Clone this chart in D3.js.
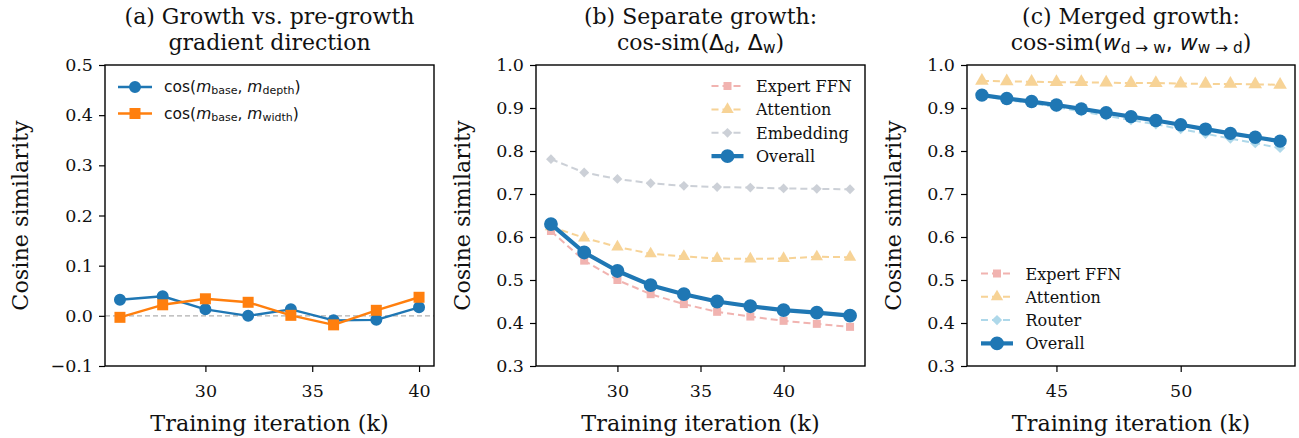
<!DOCTYPE html>
<html>
<head>
<meta charset="utf-8">
<script src="https://cdn.jsdelivr.net/npm/d3@7"></script>
<style>
  html, body { margin: 0; padding: 0; background: #fff; }
  svg { display: block; }
  .serif { font-family: "DejaVu Serif", serif; }
  .sans { font-family: "DejaVu Sans", sans-serif; }
</style>
</head>
<body>
<div id="chart"></div>
<script>
// ---- data -------------------------------------------------------------
// (a) cosine between pre-growth gradient and post-growth gradients
const iterA = [26, 28, 30, 32, 34, 36, 38, 40];
const depthCos = [0.032, 0.039, 0.013, 0.000, 0.013, -0.009, -0.008, 0.017];
const widthCos = [-0.003, 0.022, 0.034, 0.027, 0.001, -0.018, 0.011, 0.037];

// (b) separate growth, per-module cosine similarity
const iterB = [26, 28, 30, 32, 34, 36, 38, 40, 42, 44];
const sepExpertFFN = [0.614, 0.545, 0.500, 0.467, 0.444, 0.426, 0.415, 0.405, 0.398, 0.391];
const sepAttention = [0.624, 0.598, 0.577, 0.561, 0.555, 0.550, 0.549, 0.550, 0.554, 0.553];
const sepEmbedding = [0.781, 0.750, 0.735, 0.725, 0.719, 0.716, 0.715, 0.713, 0.712, 0.711];
const sepOverall   = [0.630, 0.564, 0.521, 0.488, 0.467, 0.450, 0.439, 0.430, 0.424, 0.417];

// (c) merged growth, per-module cosine similarity
const iterC = [42, 43, 44, 45, 46, 47, 48, 49, 50, 51, 52, 53, 54];
const mrgExpertFFN = [0.929, 0.921, 0.914, 0.906, 0.897, 0.888, 0.879, 0.870, 0.860, 0.850, 0.840, 0.831, 0.821];
const mrgAttention = [0.963, 0.962, 0.961, 0.960, 0.960, 0.959, 0.958, 0.958, 0.957, 0.956, 0.956, 0.955, 0.954];
const mrgRouter    = [0.928, 0.919, 0.911, 0.902, 0.892, 0.882, 0.872, 0.862, 0.851, 0.840, 0.829, 0.818, 0.807];
const mrgOverall   = [0.930, 0.922, 0.915, 0.907, 0.898, 0.889, 0.880, 0.871, 0.861, 0.851, 0.841, 0.832, 0.823];

// ticks
const ticksXA = [30, 35, 40];
const ticksYA = [-0.1, 0.0, 0.1, 0.2, 0.3, 0.4, 0.5];
const ticksXB = [30, 35, 40];
const ticksYB = [0.3, 0.4, 0.5, 0.6, 0.7, 0.8, 0.9, 1.0];
const ticksXC = [45, 50];
const ticksYC = [0.3, 0.4, 0.5, 0.6, 0.7, 0.8, 0.9, 1.0];

// ---- drawing ----------------------------------------------------------
const W = 1299, H = 438;
const svg = d3.select("#chart").append("svg").attr("width", W).attr("height", H);

const fmt = d3.format(".1f");
const TICK_FS = 17.5, LABEL_FS = 22.3, TITLE_FS = 22, LEG_FS = 16;

function makePanel(cfg) {
  const x = d3.scaleLinear().domain(cfg.xDomain).range([cfg.left, cfg.right]);
  const y = d3.scaleLinear().domain(cfg.yDomain).range([cfg.bottom, cfg.top]);
  const g = svg.append("g");

  // axes
  const xAxis = d3.axisBottom(x).tickValues(cfg.xTicks).tickFormat(d3.format("d"))
    .tickSizeOuter(0).tickSizeInner(6).tickPadding(8);
  const yAxis = d3.axisLeft(y).tickValues(cfg.yTicks).tickFormat(fmt)
    .tickSizeOuter(0).tickSizeInner(6).tickPadding(6);
  const gx = g.append("g").attr("transform", `translate(0,${cfg.bottom})`).call(xAxis);
  const gy = g.append("g").attr("transform", `translate(${cfg.left},0)`).call(yAxis);
  [gx, gy].forEach(a => {
    a.select(".domain").remove();
    a.selectAll("line").attr("stroke", "#000").attr("stroke-width", 1.2);
    a.selectAll("text").attr("class", "serif").attr("font-size", TICK_FS).attr("fill", "#111");
  });
  gx.selectAll("text").attr("dy", "0.95em");

  const body = g.append("g");
  // frame
  g.append("rect")
    .attr("x", cfg.left).attr("y", cfg.top)
    .attr("width", cfg.right - cfg.left).attr("height", cfg.bottom - cfg.top)
    .attr("fill", "none").attr("stroke", "#000").attr("stroke-width", 1.4);

  // axis labels
  g.append("text").attr("class", "serif").attr("font-size", LABEL_FS).attr("fill", "#111")
    .attr("text-anchor", "middle")
    .attr("x", (cfg.left + cfg.right) / 2).attr("y", 431)
    .text("Training iteration (k)");
  g.append("text").attr("class", "serif").attr("font-size", LABEL_FS).attr("fill", "#111")
    .attr("text-anchor", "middle")
    .attr("transform", `translate(${cfg.yLabelX},${(cfg.top + cfg.bottom) / 2}) rotate(-90)`)
    .text("Cosine similarity");

  return { x, y, g, body };
}

function symbolPath(kind, size) {
  if (kind === "circle") return d3.symbol(d3.symbolCircle, size)();
  if (kind === "square") return d3.symbol(d3.symbolSquare, size)();
  if (kind === "triangle") return d3.symbol(d3.symbolTriangle, size)();
  if (kind === "diamond") return d3.symbol(d3.symbolSquare, size)();
}

function drawSeries(p, xs, ys, st) {
  const pts = xs.map((d, i) => [d, ys[i]]);
  const line = d3.line().x(d => p.x(d[0])).y(d => p.y(d[1]));
  const grp = p.body.append("g").attr("opacity", st.opacity || 1);
  grp.append("path").attr("d", line(pts))
    .attr("fill", "none").attr("stroke", st.color).attr("stroke-width", st.lw)
    .attr("stroke-dasharray", st.dash || null).attr("stroke-linejoin", "round");
  const path = symbolPath(st.marker, st.size);
  grp.selectAll("path.m").data(pts).join("path").attr("class", "m")
    .attr("d", path)
    .attr("transform", d => `translate(${p.x(d[0])},${p.y(d[1])})` + (st.marker === "diamond" ? " rotate(45)" : ""))
    .attr("fill", st.color);
}

function legendHandle(g, cx, cy, st, half) {
  const grp = g.append("g").attr("opacity", st.opacity || 1);
  grp.append("line").attr("x1", cx - half).attr("x2", cx + half).attr("y1", cy).attr("y2", cy)
    .attr("stroke", st.color).attr("stroke-width", st.lw).attr("stroke-dasharray", st.dash || null);
  grp.append("path").attr("d", symbolPath(st.marker, st.size))
    .attr("transform", `translate(${cx},${cy})` + (st.marker === "diamond" ? " rotate(45)" : ""))
    .attr("fill", st.color);
}

// titles (serif text with sans math parts)
function title(cx, lines) {
  lines.forEach((parts, i) => {
    const t = svg.append("text").attr("x", cx).attr("y", 24 + i * 25.5)
      .attr("text-anchor", "middle").attr("font-size", TITLE_FS).attr("fill", "#111");
    parts.forEach(pt => {
      const s = t.append("tspan").text(pt.t)
        .attr("font-family", pt.math ? "DejaVu Sans, sans-serif" : "DejaVu Serif, serif");
      if (pt.it) s.attr("font-style", "italic");
      if (pt.sub) s.attr("font-size", TITLE_FS * 0.7).attr("baseline-shift", "-22%");
    });
  });
}

// ---- panel (a)
const pa = makePanel({ left: 105, right: 434, top: 65, bottom: 366,
  xDomain: [25.3, 40.7], yDomain: [-0.1, 0.5], xTicks: ticksXA, yTicks: ticksYA, yLabelX: 28 });
pa.body.append("line").attr("x1", 105).attr("x2", 434).attr("y1", pa.y(0)).attr("y2", pa.y(0))
  .attr("stroke", "#b0b0b0").attr("stroke-width", 1.2).attr("stroke-dasharray", "5,3");
const stDepth = { color: "#1f77b4", lw: 2.4, marker: "circle", size: 113 };
const stWidth = { color: "#ff7f0e", lw: 2.4, marker: "square", size: 121 };
drawSeries(pa, iterA, depthCos, stDepth);
drawSeries(pa, iterA, widthCos, stWidth);

function mathLegend(g, x, y, sub) {
  const t = g.append("text").attr("x", x).attr("y", y).attr("font-size", 15.5)
    .attr("font-family", "DejaVu Sans, sans-serif").attr("fill", "#111");
  t.append("tspan").text("cos(");
  t.append("tspan").text("m").attr("font-style", "italic");
  t.append("tspan").text("base").attr("font-size", 11).attr("baseline-shift", "-22%");
  t.append("tspan").text(", ");
  t.append("tspan").text("m").attr("font-style", "italic");
  t.append("tspan").text(sub).attr("font-size", 11).attr("baseline-shift", "-22%");
  t.append("tspan").text(")");
}
legendHandle(pa.g, 135, 87, stDepth, 17);
mathLegend(pa.g, 164, 92, "depth");
legendHandle(pa.g, 135, 113.5, stWidth, 17);
mathLegend(pa.g, 164, 118.5, "width");

title(269.5, [
  [{ t: "(a) Growth vs. pre-growth" }],
  [{ t: "gradient direction" }]
]);

// ---- panel (b)
const pb = makePanel({ left: 536, right: 865, top: 65, bottom: 366,
  xDomain: [25.1, 44.9], yDomain: [0.3, 1.0], xTicks: ticksXB, yTicks: ticksYB, yLabelX: 470 });
const stFFN  = { color: "#e8827d", lw: 2, dash: "7,4", marker: "square",   size: 64,  opacity: 0.6 };
const stAttn = { color: "#f0a830", lw: 2, dash: "7,4", marker: "triangle", size: 66,  opacity: 0.5 };
const stEmb  = { color: "#9aa3b0", lw: 2, dash: "7,4", marker: "diamond",  size: 48,  opacity: 0.5 };
const stRtr  = { color: "#5fb3d6", lw: 2, dash: "7,4", marker: "diamond",  size: 52,  opacity: 0.5 };
const stAll  = { color: "#1f77b4", lw: 4.2, marker: "circle", size: 150 };
drawSeries(pb, iterB, sepExpertFFN, stFFN);
drawSeries(pb, iterB, sepAttention, stAttn);
drawSeries(pb, iterB, sepEmbedding, stEmb);
drawSeries(pb, iterB, sepOverall, stAll);

const legB = [["Expert FFN", stFFN], ["Attention", stAttn], ["Embedding", stEmb], ["Overall", stAll]];
legB.forEach(([name, st], i) => {
  const cy = 86 + i * 23.4;
  legendHandle(pb.g, 727.5, cy, st, 16);
  pb.g.append("text").attr("class", "serif").attr("font-size", LEG_FS).attr("fill", "#111")
    .attr("x", 756).attr("y", cy + 6).text(name);
});

title(700.5, [
  [{ t: "(b) Separate growth:" }],
  [{ t: "cos-sim(" }, { t: "Δ", math: true }, { t: "d", math: true, sub: true },
   { t: ", ", math: true }, { t: "Δ", math: true }, { t: "w", math: true, sub: true }, { t: ")" }]
]);

// ---- panel (c)
const pc = makePanel({ left: 967, right: 1295, top: 65, bottom: 366,
  xDomain: [41.4, 54.6], yDomain: [0.3, 1.0], xTicks: ticksXC, yTicks: ticksYC, yLabelX: 901 });
drawSeries(pc, iterC, mrgExpertFFN, stFFN);
drawSeries(pc, iterC, mrgAttention, { ...stAttn, size: 80 });
drawSeries(pc, iterC, mrgRouter, stRtr);
drawSeries(pc, iterC, mrgOverall, { ...stAll, size: 140 });

const legC = [["Expert FFN", stFFN], ["Attention", stAttn], ["Router", stRtr], ["Overall", stAll]];
legC.forEach(([name, st], i) => {
  const cy = 273.5 + i * 23.3;
  legendHandle(pc.g, 997, cy, st, 16);
  pc.g.append("text").attr("class", "serif").attr("font-size", LEG_FS).attr("fill", "#111")
    .attr("x", 1025.5).attr("y", cy + 6).text(name);
});

title(1131, [
  [{ t: "(c) Merged growth:" }],
  [{ t: "cos-sim(" }, { t: "w", math: true, it: true }, { t: "d → w", math: true, sub: true },
   { t: ", ", math: true }, { t: "w", math: true, it: true }, { t: "w → d", math: true, sub: true }, { t: ")" }]
]);
</script>
</body>
</html>
